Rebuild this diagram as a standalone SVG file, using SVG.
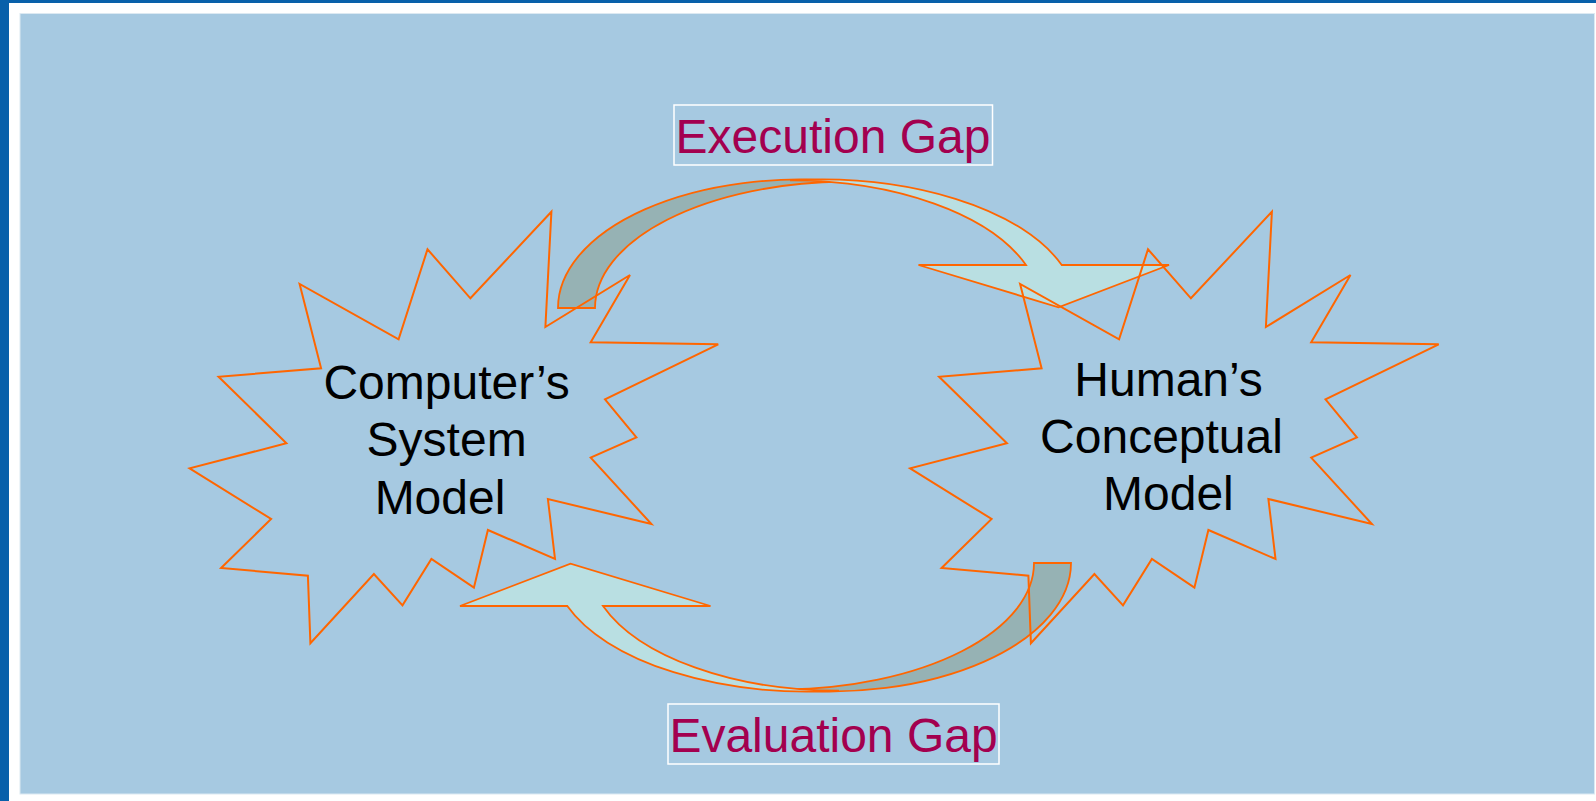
<svg xmlns="http://www.w3.org/2000/svg" xmlns:xlink="http://www.w3.org/1999/xlink" width="1596" height="801" viewBox="0 0 1596 801">
  <style>
    .star { fill: none; stroke: #FF6600; stroke-width: 2; stroke-linejoin: miter; }
    .band-dark { fill: #96B2B4; stroke: #FF6600; stroke-width: 1.8; stroke-linejoin: miter; }
    .band-light { fill: #B9DFE2; stroke: #FF6600; stroke-width: 1.8; stroke-linejoin: miter; }
    .node-text { font-family: "Liberation Sans", Arial, sans-serif; font-size: 48px; fill: #000000; text-anchor: middle; }
    .gap-text { font-family: "Liberation Sans", Arial, sans-serif; font-size: 48px; fill: #A3004F; text-anchor: middle; }
    .gap-box { fill: none; stroke: #FFFFFF; stroke-width: 1.5; }
  </style>
  <defs>
    <!-- 28-point burst outline shared by both model nodes -->
    <polygon id="burst" points="551.4,211.7 470.4,298.3 427.5,249.3 398.6,339.3 299.6,284 321.1,368.3 218.6,376.7 286.4,443.3 189.6,468.3 271.1,519 221.1,568 307.9,575.7 310.4,643.3 373.9,574 402.5,605.3 431.4,559 473.9,587.7 487.9,530 555,559 547.9,499 651.4,524 590.7,457.7 636.4,437.3 605,399.3 718.2,344.3 590.7,342.3 630,275 545.4,327"/>
    <!-- curved arrow: shaded rising band + lit descending band with head -->
    <g id="curved-arrow">
      <path class="band-dark" d="M558,308 A242,128.5 0 0 1 843,181.5 A255,126.5 0 0 0 595,308 Z"/>
      <path class="band-light" d="M790,180.3 A256.4,128.7 0 0 1 1061.7,265 L1169,265 L1058.5,307.3 L918.5,265 L1026,265 A250.4,128 0 0 0 790,180.3 Z"/>
    </g>
  </defs>

  <!-- page frame -->
  <rect x="0" y="0" width="1596" height="801" fill="#FFFFFF"/>
  <rect x="0" y="0" width="1596" height="3" fill="#0860AA"/>
  <rect x="0" y="0" width="9" height="801" fill="#0860AA"/>
  <rect x="20" y="13.5" width="1574.5" height="780.5" fill="#A6C9E1" stroke="#DCE9F2" stroke-width="1"/>

  <!-- connectors -->
  <g id="connectors">
    <use id="execution-arrow" xlink:href="#curved-arrow"/>
    <use id="evaluation-arrow" xlink:href="#curved-arrow" transform="rotate(180 814.5 435.5)"/>
    <g id="execution-label">
      <rect class="gap-box" x="674" y="105" width="318.5" height="60"/>
      <text class="gap-text" x="833" y="152.5">Execution Gap</text>
    </g>
    <g id="evaluation-label">
      <rect class="gap-box" x="668" y="704" width="331" height="60"/>
      <text class="gap-text" x="833.5" y="751.5">Evaluation Gap</text>
    </g>
  </g>

  <!-- nodes -->
  <g id="computer-model">
    <use xlink:href="#burst" class="star"/>
    <text class="node-text" x="446.6" y="398.5">Computer’s</text>
    <text class="node-text" x="446.6" y="456">System</text>
    <text class="node-text" x="440" y="513.5">Model</text>
  </g>
  <g id="human-model">
    <use xlink:href="#burst" class="star" transform="translate(720.5 0)"/>
    <text class="node-text" x="1168.6" y="396">Human’s</text>
    <text class="node-text" x="1161.5" y="453">Conceptual</text>
    <text class="node-text" x="1168.4" y="510">Model</text>
  </g>
</svg>
